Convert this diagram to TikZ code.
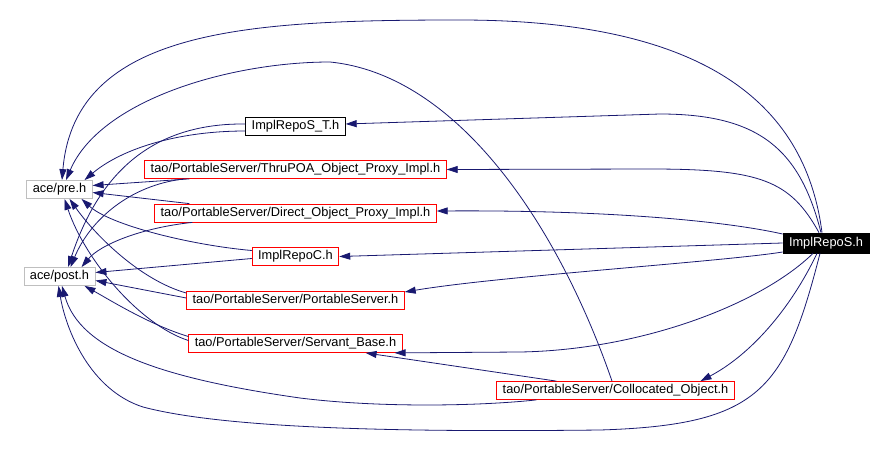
\documentclass[tikz,border=0pt]{standalone}
\usepackage{fontspec}
\setmainfont{Liberation Sans}
\usetikzlibrary{arrows.meta,positioning}
\definecolor{edgeblue}{HTML}{191970}
\definecolor{boxred}{HTML}{FF0000}
\definecolor{boxgray}{HTML}{BFBFBF}

\begin{document}
\begin{tikzpicture}[
  x=1pt, y=-1pt,
  >={Triangle[length=11pt,width=7pt]},
  hfile/.style={rectangle, draw=boxred, line width=0.8pt, minimum height=18pt, inner xsep=6pt, inner ysep=0pt, text height=9.3pt, text depth=2.7pt, font=\fontsize{12.8pt}{15pt}\selectfont},
  extfile/.style={hfile, draw=boxgray},
  plainfile/.style={hfile, draw=black},
  mainfile/.style={hfile, draw=black, fill=black, text=white, minimum height=20pt},
  dep/.style={->, draw=edgeblue, line width=0.8pt}
]
  \useasboundingbox (0,0) rectangle (892,453);
  \node[extfile] (pre) at (59.5,189.5) {ace/pre.h};
  \node[extfile] (post) at (59.5,276.5) {ace/post.h};
  \node[plainfile] (implST) at (295.5,126) {ImplRepoS\_T.h};
  \node[hfile, below=24.7pt of implST] (thru) {tao/PortableServer/ThruPOA\_Object\_Proxy\_Impl.h};
  \node[hfile, below=24.7pt of thru] (direct) {tao/PortableServer/Direct\_Object\_Proxy\_Impl.h};
  \node[hfile, below=24.7pt of direct] (implC) {ImplRepoC.h};
  \node[hfile, below=24.7pt of implC] (ps) {tao/PortableServer/PortableServer.h};
  \node[hfile, below=24.7pt of ps] (sb) {tao/PortableServer/Servant\_Base.h};
  \node[hfile] (coll) at (615.5,390.5) {tao/PortableServer/Collocated\_Object.h};
  \node[mainfile] (implS) at (826,243) {ImplRepoS.h};

  % ImplRepoS.h
  \draw[dep] ([xshift=-4pt]implS.north) .. controls (805,100) and (700,20) .. (460,20) .. controls (250,20) and (75,28) .. ([xshift=2.5pt]pre.north);
  \draw[dep] ([xshift=-6pt]implS.south) .. controls (785,390) and (760,425) .. (600,430) .. controls (420,432) and (230,430) .. (143,407) .. controls (90,390) and (66,330) .. ([xshift=-1pt]post.south);
  \draw[dep] ([xshift=-5pt]implS.north) .. controls (800,150) and (760,114) .. (660,114) -- ([yshift=2pt]implST.east);
  \draw[dep] ([xshift=-7pt]implS.north) .. controls (790,180) and (760,169) .. (650,169) -- (thru.east);
  \draw[dep] ([yshift=9pt]implS.west) .. controls (720,220) and (600,210) .. ([yshift=2pt]direct.east);
  \draw[dep] (implS.west) -- (implC.east);
  \draw[dep] ([yshift=-9pt]implS.west) .. controls (720,262) and (500,276) .. ([yshift=8pt]ps.east);
  \draw[dep] ([xshift=-13pt]implS.south) .. controls (760,305) and (640,350) .. (520,352) -- ([xshift=-8pt]sb.south east);
  \draw[dep] ([xshift=-9pt]implS.south) .. controls (790,310) and (750,355) .. ([xshift=85pt]coll.north);

  % ImplRepoS_T.h
  \draw[dep] ([yshift=-5pt]implST.west) .. controls (175,131) and (120,150) .. ([xshift=25pt]pre.north);
  \draw[dep] ([yshift=2pt]implST.west) .. controls (155,123) and (100,170) .. ([xshift=8.5pt]post.north);

  % the middle column
  \draw[dep] ([xshift=45pt]thru.south west) -- ([yshift=4pt]pre.east);
  \draw[dep] ([xshift=40pt]thru.south west) .. controls (130,185) and (90,220) .. ([xshift=11pt]post.north);
  \draw[dep] ([xshift=35pt]direct.north west) -- ([yshift=-3pt]pre.east);
  \draw[dep] ([xshift=38pt]direct.south west) .. controls (140,228) and (100,245) .. ([xshift=22pt]post.north);
  \draw[dep] ([yshift=6pt]implC.west) .. controls (190,245) and (110,225) .. ([xshift=22pt]pre.south);
  \draw[dep] ([yshift=-2pt]implC.west) -- ([yshift=4pt]post.east);
  \draw[dep] ([yshift=7pt]ps.west) .. controls (140,280) and (95,235) .. ([xshift=10pt]pre.south);
  \draw[dep] ([yshift=2pt]ps.west) -- ([yshift=-4pt]post.east);
  \draw[dep] ([yshift=3pt]sb.west) .. controls (140,325) and (85,260) .. ([xshift=5pt]pre.south);
  \draw[dep] ([yshift=7pt]sb.west) .. controls (150,325) and (110,300) .. ([xshift=25pt]post.south);

  % Collocated_Object.h
  \draw[dep] ([xshift=-3.5pt]coll.north) .. controls (560,230) and (460,75) .. (330,62) .. controls (230,62) and (100,100) .. ([xshift=6.5pt]pre.north);
  \draw[dep] ([xshift=40pt]coll.south west) .. controls (480,406) and (380,408) .. (300,398) .. controls (160,378) and (80,350) .. ([xshift=2.5pt]post.south);
  \draw[dep] ([xshift=60pt]coll.north west) -- ([xshift=-37pt]sb.south east);
\end{tikzpicture}
\end{document}
